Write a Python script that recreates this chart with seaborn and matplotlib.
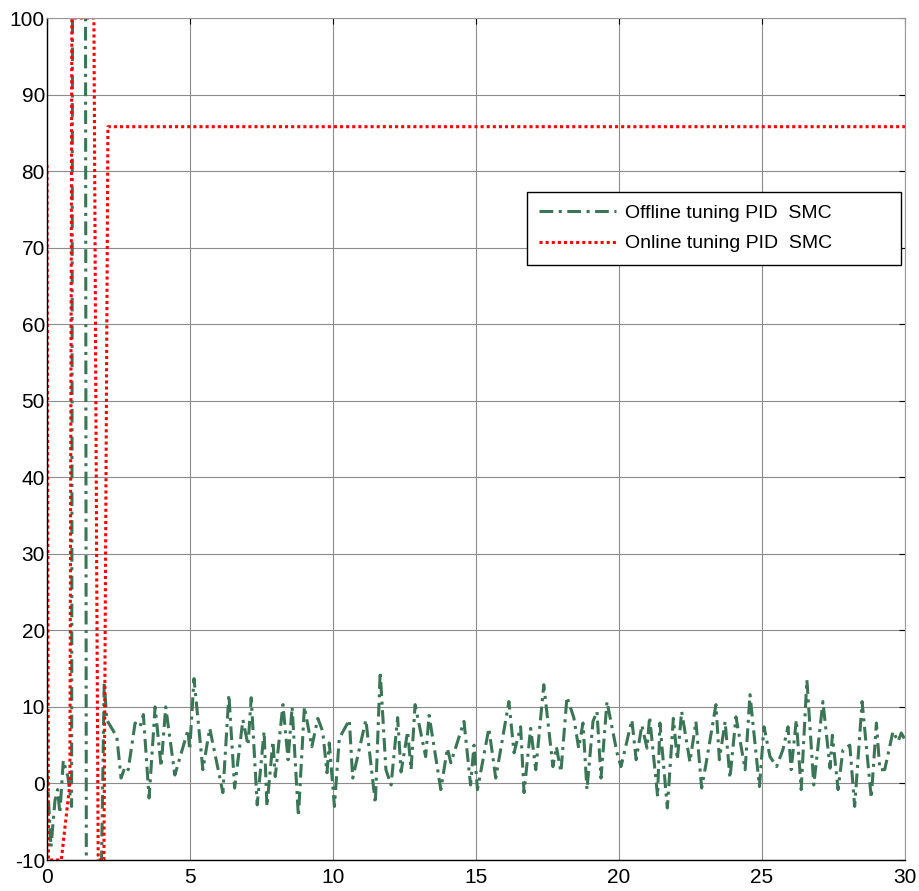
import numpy as np
import pandas as pd
import matplotlib
matplotlib.use("Agg")
import matplotlib.pyplot as plt
import seaborn as sns

# ---- data ----
offline_t = [0.00, 0.14, 0.28, 0.37, 0.45, 0.57, 0.73, 0.86, 0.90, 1.34, 1.38, 1.90,
             2.00, 2.09, 2.44, 2.59, 2.73, 2.84, 3.08, 3.25, 3.37, 3.57, 3.78, 3.99,
             4.15, 4.47, 4.93, 4.99, 5.14, 5.45, 5.69, 6.15, 6.36, 6.56, 6.85, 7.03,
             7.14, 7.35, 7.59, 7.69, 7.90, 7.98, 8.25, 8.43, 8.57, 8.79, 9.00, 9.26,
             9.47, 9.64, 9.79, 9.87, 10.05, 10.22, 10.57, 10.69, 11.15, 11.48, 11.65,
             11.85, 12.03, 12.26, 12.38, 12.61, 12.73, 12.87, 13.24, 13.36, 13.77,
             14.00, 14.12, 14.58, 14.81, 14.93, 15.05, 15.45, 15.69, 16.15, 16.33,
             16.56, 16.68, 16.91, 17.09, 17.37, 17.69, 17.81, 17.97, 18.18, 18.42,
             18.59, 18.74, 18.88, 19.09, 19.23, 19.37, 19.58, 19.93, 20.07, 20.45,
             20.60, 20.80, 20.98, 21.07, 21.35, 21.43, 21.69, 21.90, 22.04, 22.19,
             22.48, 22.69, 22.89, 23.04, 23.39, 23.51, 23.71, 23.88, 24.09, 24.41,
             24.58, 24.91, 25.07, 25.28, 25.51, 25.73, 25.91, 26.02, 26.20, 26.37,
             26.57, 26.81, 27.13, 27.38, 27.46, 27.66, 27.83, 28.07, 28.24, 28.50,
             28.82, 29.00, 29.12, 29.29, 29.58, 29.76, 29.87, 30.00]
offline_y = [1.4, -8.3, -2.2, -0.8, -3.9, 3.0, 0.9, -3.0, 130, 130, -30, -12,
             13.3, 8.3, 6.1, 0.7, 2.2, 1.8, 7.9, 7.4, 9.0, -1.9, 10.0, 2.2,
             10.0, 1.1, 7.0, 4.4, 13.7, 1.8, 7.2, -1.2, 11.6, -0.6, 8.3, 5.0,
             11.2, -2.8, 6.8, -3.0, 5.5, 0.9, 10.3, 3.1, 10.0, -4.3, 10.0, 4.8,
             8.5, 6.8, 1.4, 5.3, -3.0, 5.9, 8.3, 0.7, 8.3, -2.6, 14.6,
             1.8, -0.2, 8.6, 1.5, 6.8, 1.8, 10.3, 3.5, 8.9, -0.8,
             4.6, 2.7, 8.1, -0.2, 5.0, -0.8, 7.2, 0.7, 10.7, 4.0,
             7.4, -1.2, 7.2, 1.8, 12.9, 2.2, 4.8, 1.5, 11.3, 8.6,
             4.6, 7.9, -0.8, 8.1, 9.4, 0.7, 10.7, 4.0, 2.2, 8.3,
             3.1, 7.6, 4.6, 8.7, -1.7, 7.9, -3.2, 8.5, 3.1, 9.4,
             2.8, 8.1, -0.6, 2.5, 10.3, 3.1, 8.1, 0.7, 8.7, 1.8,
             11.6, -0.4, 7.4, 3.5, 2.2, 4.4, 7.4, 1.8, 8.3, -0.8,
             13.5, -0.2, 10.7, 2.0, 6.3, -0.8, 4.4, 5.0, -3.0, 10.7,
             -1.9, 7.9, 1.8, 1.8, 6.8, 5.5, 6.6, 5.7]

online_t = [0.00, 0.05, 0.50, 0.80, 0.87, 1.64, 1.79, 1.99, 2.13, 30.00]
online_y = [80.8, -10.0, -10.0, 0.0, 100.0, 100.0, -10.0, -10.0, 85.8, 85.8]

labels = ["Offline tuning PID  SMC", "Online tuning PID  SMC"]
x_ticks = [0, 5, 10, 15, 20, 25, 30]
y_ticks = [-10, 0, 10, 20, 30, 40, 50, 60, 70, 80, 90, 100]

# ---- style ----
sns.set_style("white")
plt.rcParams['font.family'] = ['Liberation Sans', 'DejaVu Sans']
plt.rcParams['axes.unicode_minus'] = False

fig = plt.figure(figsize=(9.19, 8.91), dpi=100)
ax = fig.add_axes([47 / 919, 31 / 891, 858 / 919, 842 / 891])

green = "#3A7556"
red = "#FF0000"
green_dash = [4.5, 1.8, 1.0, 1.8]
red_dash = [1.0, 1.0]

df_off = pd.DataFrame({"t": offline_t, "y": offline_y})
df_on = pd.DataFrame({"t": online_t, "y": online_y})

sns.lineplot(data=df_off, x="t", y="y", ax=ax, color=green, lw=2.2,
             estimator=None, sort=False, label=labels[0])
sns.lineplot(data=df_on, x="t", y="y", ax=ax, color=red, lw=2.2,
             estimator=None, sort=False, label=labels[1])
ax.lines[0].set_dashes(green_dash)
ax.lines[1].set_dashes(red_dash)

ax.set_xlim(0, 30)
ax.set_ylim(-10, 100)
ax.set_xticks(x_ticks)
ax.set_yticks(y_ticks)
ax.set_xlabel("")
ax.set_ylabel("")
ax.grid(True, color="#8c8c8c", lw=0.8)
ax.set_axisbelow(True)
ax.tick_params(axis="both", direction="in", length=4, labelsize=15,
               top=True, right=True, color="black", labelcolor="black")
ax.tick_params(axis="x", pad=6)
ax.tick_params(axis="y", pad=1.5)

for side in ["left", "bottom"]:
    ax.spines[side].set_color("black")
    ax.spines[side].set_linewidth(1.0)
for side in ["top", "right"]:
    ax.spines[side].set_color("#9a9a9a")
    ax.spines[side].set_linewidth(0.8)

leg = ax.legend(loc="upper left", bbox_to_anchor=(0.559, 0.708, 0.436, 0.085),
                mode="expand", fontsize=14, frameon=True, fancybox=False,
                edgecolor="black", framealpha=1, handlelength=3.95,
                handletextpad=0.5, borderpad=0.63, labelspacing=0.65,
                borderaxespad=0)
leg.get_frame().set_linewidth(1.0)
for t in leg.get_texts():
    t.set_color("black")
for h, d in zip(leg.get_lines(), [green_dash, red_dash]):
    h.set_dashes(d)

fig.savefig("out.png", dpi=100)
